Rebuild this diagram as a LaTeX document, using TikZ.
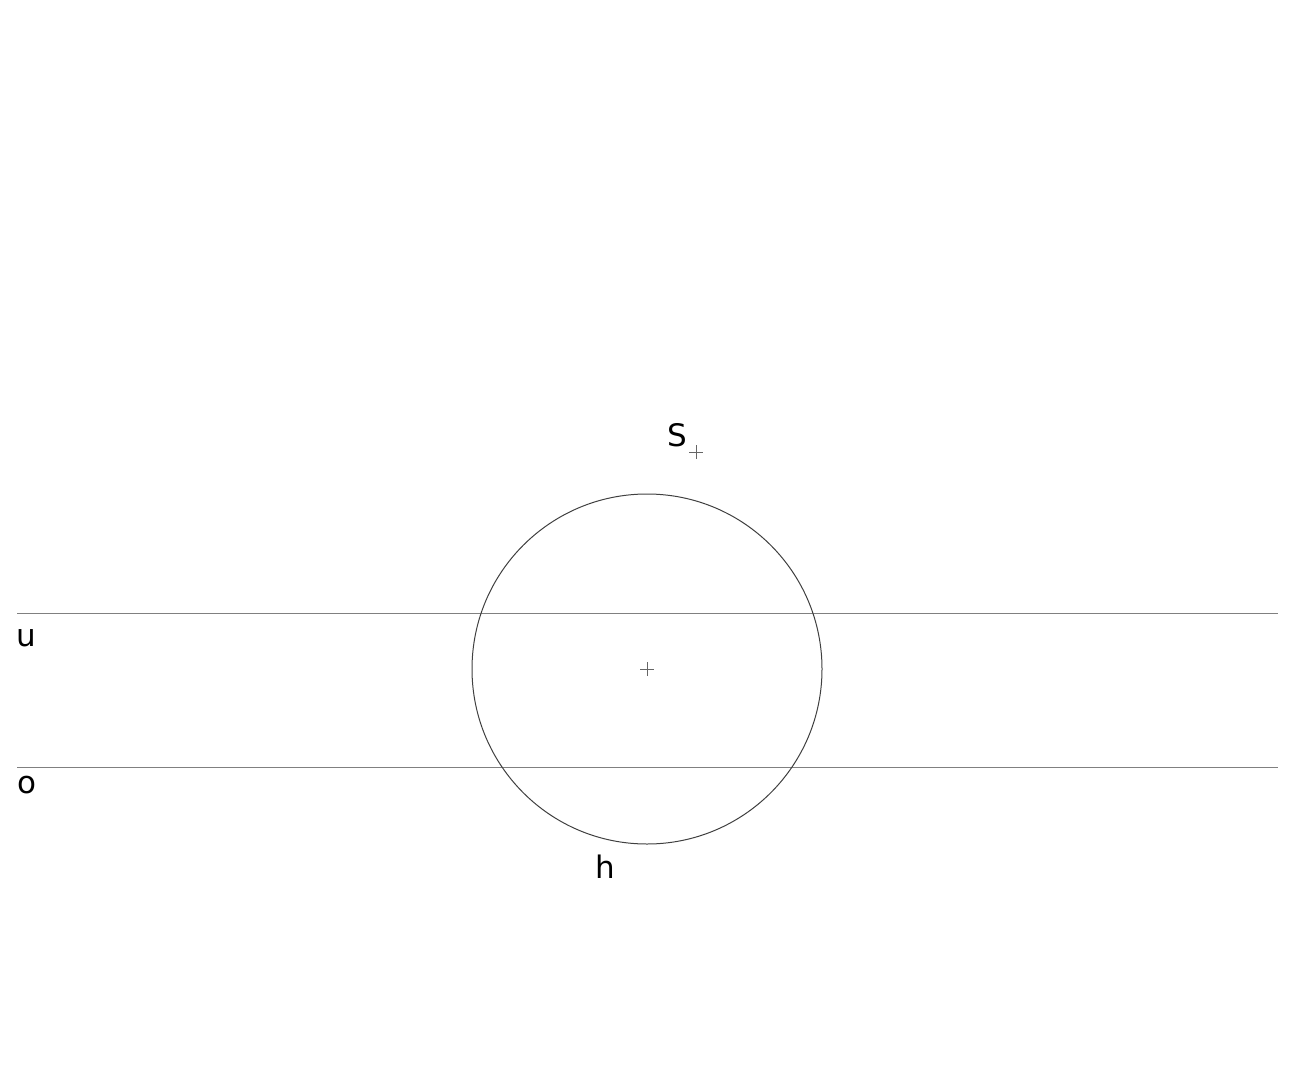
\documentclass[tikz,border=0pt]{standalone}
\usepackage{fontspec}
\setmainfont{DejaVu Sans}
\usepackage{xcolor}
\usepackage{tikz}

\begin{document}
\begin{tikzpicture}[x=1pt,y=-1pt]
			\tikzstyle{label} = [font=\fontsize{31}{37}\selectfont, inner sep=0pt]
			\tikzstyle{trace} = [draw=gray, line width=1pt]
			\tikzstyle{ring} = [draw=black!75, line width=1pt, circle, minimum size=350pt, inner sep=0pt]
			\tikzset{mark cross/.style = {draw=black!60, line width=1pt}}
			
			\useasboundingbox (0,0) rectangle (1289,1078);
			
			\coordinate (u-start) at (17,613);
			\coordinate (u-end) at (1278,613);
			\coordinate (o-start) at (17,767);
			\coordinate (o-end) at (1278,767);
			\draw[trace](u-start) -- (u-end);
			\draw[trace](o-start) -- (o-end);
			
			\node[ring](sphere) at (647,669) {};
			\coordinate (centre) at (647,669);
			\draw[mark cross]([xshift=-7pt]centre) -- ([xshift=7pt]centre);
			\draw[mark cross]([yshift=-7pt]centre) -- ([yshift=7pt]centre);
			
			\coordinate (sun) at (696,452);
			\draw[mark cross]([xshift=-7pt]sun) -- ([xshift=7pt]sun);
			\draw[mark cross]([yshift=-7pt]sun) -- ([yshift=7pt]sun);
			
			\node[label](S) at (677,435) {S};
			\node[label](u) at (26,638) {u};
			\node[label](o) at (27,785) {o};
			\node[label](h) at (605,867) {h};
			
\end{tikzpicture}
\end{document}
